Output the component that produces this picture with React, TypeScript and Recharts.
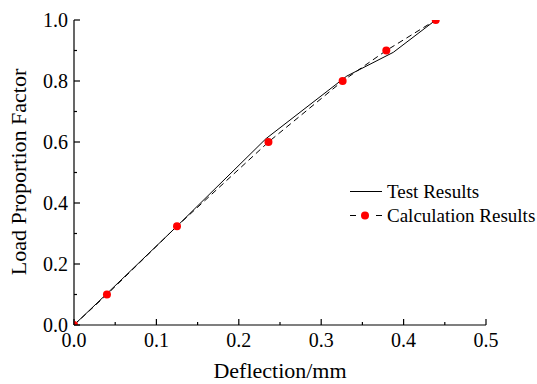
import { LineChart, Line, XAxis, YAxis, Legend } from "recharts";

// test results (solid line)
const testDeflection = [0, 0.04, 0.125, 0.233, 0.331, 0.3875, 0.439];
const testLoad = [0, 0.103, 0.324, 0.611, 0.816, 0.894, 1.0];

// calculation results (dashed + red dots)
const calcDeflection = [0, 0.04, 0.125, 0.236, 0.326, 0.379, 0.439];
const calcLoad = [0, 0.1, 0.324, 0.6, 0.8, 0.9, 1.0];

const xTicks = [0, 0.05, 0.1, 0.15, 0.2, 0.25, 0.3, 0.35, 0.4, 0.45, 0.5];
const yTicks = [0, 0.1, 0.2, 0.3, 0.4, 0.5, 0.6, 0.7, 0.8, 0.9, 1.0];

const seriesNames = ["Test Results", "Calculation Results"];

const testData = testDeflection.map((x, i) => ({ x, y: testLoad[i] }));
const calcData = calcDeflection.map((x, i) => ({ x, y: calcLoad[i] }));

const FONT = "'Liberation Serif', 'Times New Roman', serif";

function isMajor(v: number) {
  return Math.round(v * 20) % 2 === 0;
}

function isMajorY(v: number) {
  return Math.round(v * 10) % 2 === 0;
}

function XTick(props: any) {
  const { x, y, payload } = props;
  const major = isMajor(payload.value);
  return (
    <g>
      <line x1={x} x2={x} y1={y} y2={y - (major ? 6 : 3)} stroke="#000" strokeWidth={1.2} />
      {major && (
        <text x={x} y={y + 22} textAnchor="middle" fontFamily={FONT} fontSize={20} fill="#000">
          {payload.value.toFixed(1)}
        </text>
      )}
    </g>
  );
}

function YTick(props: any) {
  const { x, y, payload } = props;
  const major = isMajorY(payload.value);
  return (
    <g>
      <line x1={x} x2={x + (major ? 6 : 3)} y1={y} y2={y} stroke="#000" strokeWidth={1.2} />
      {major && (
        <text x={x - 6} y={y + 7} textAnchor="end" fontFamily={FONT} fontSize={20} fill="#000">
          {payload.value.toFixed(1)}
        </text>
      )}
    </g>
  );
}

function LegendBox() {
  return (
    <div style={{ fontFamily: FONT, fontSize: 19, color: "#000", lineHeight: "23.5px" }}>
      <div style={{ display: "flex", alignItems: "center", whiteSpace: "nowrap" }}>
        <svg width={39} height={23}>
          <line x1={2} x2={34} y1={11.5} y2={11.5} stroke="#000" strokeWidth={1} />
        </svg>
        <span>{seriesNames[0]}</span>
      </div>
      <div style={{ display: "flex", alignItems: "center", whiteSpace: "nowrap" }}>
        <svg width={39} height={23}>
          <line x1={2} x2={34} y1={11.5} y2={11.5} stroke="#000" strokeWidth={1} strokeDasharray="6 20" />
          <circle cx={17} cy={11.5} r={4} fill="red" />
        </svg>
        <span>{seriesNames[1]}</span>
      </div>
    </div>
  );
}

export default function App() {
  return (
    <div style={{ position: "absolute", left: 0, top: 0, background: "#fff" }}>
      <LineChart width={537} height={384} margin={{ top: 20, right: 51, bottom: 0, left: 0 }}>
        <XAxis
          type="number"
          dataKey="x"
          domain={[0, 0.5]}
          ticks={xTicks}
          interval={0}
          allowDataOverflow
          tickSize={0}
          tickMargin={0}
          tickLine={false}
          tick={<XTick />}
          height={59}
          axisLine={{ stroke: "#000", strokeWidth: 1.2 }}
          label={{
            content: () => (
              <text x={280} y={378} textAnchor="middle" fontFamily={FONT} fontSize={22} fill="#000">
                Deflection/mm
              </text>
            ),
          }}
        />
        <YAxis
          type="number"
          dataKey="y"
          domain={[0, 1]}
          ticks={yTicks}
          interval={0}
          allowDataOverflow
          tickSize={0}
          tickMargin={0}
          tickLine={false}
          tick={<YTick />}
          width={74}
          axisLine={{ stroke: "#000", strokeWidth: 1.2 }}
          label={{
            content: () => (
              <text
                x={18}
                y={172}
                transform="rotate(-90, 18, 172)"
                textAnchor="middle"
                dominantBaseline="central"
                fontFamily={FONT}
                fontSize={22}
                fill="#000"
              >
                Load Proportion Factor
              </text>
            ),
          }}
        />
        <Legend
          layout="vertical"
          align="center"
          verticalAlign="middle"
          content={() => <LegendBox />}
          wrapperStyle={{ left: 348, top: 180, width: 190, height: 50 }}
        />
        <Line
          data={testData}
          dataKey="y"
          name={seriesNames[0]}
          type="linear"
          stroke="#000"
          strokeWidth={1}
          dot={false}
          isAnimationActive={false}
        />
        <Line
          data={calcData}
          dataKey="y"
          name={seriesNames[1]}
          type="linear"
          stroke="#000"
          strokeWidth={1}
          strokeDasharray="6 4"
          dot={{ r: 4, fill: "red", stroke: "red", strokeWidth: 0 }}
          isAnimationActive={false}
        />
      </LineChart>
    </div>
  );
}
